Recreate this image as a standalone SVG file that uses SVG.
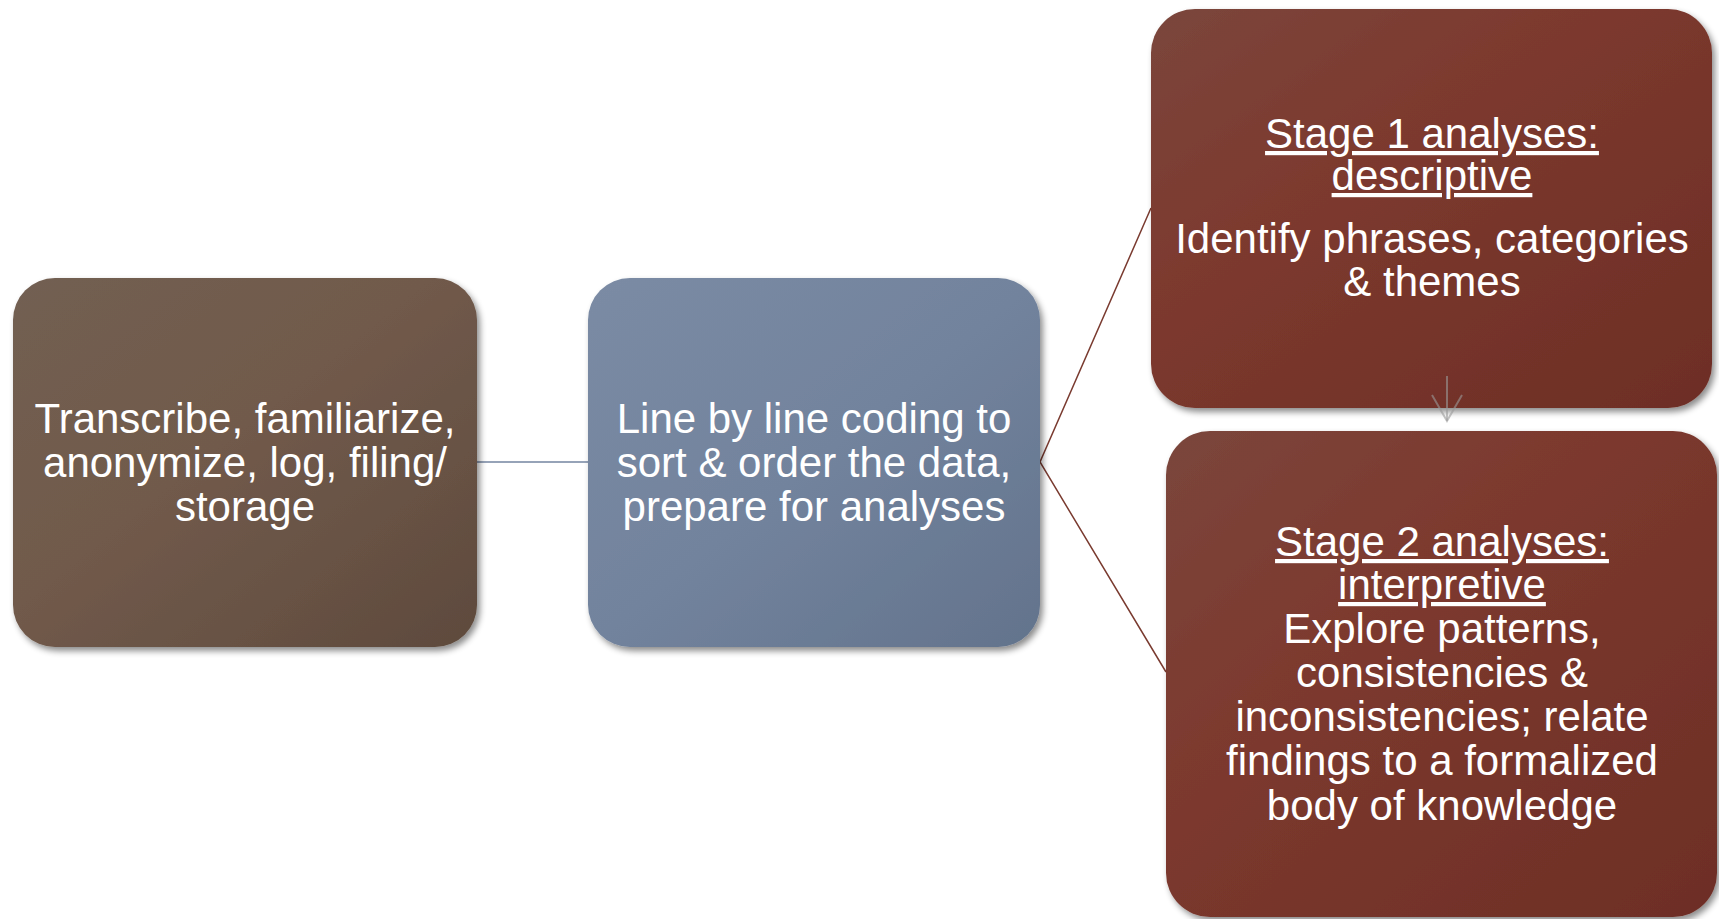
<svg xmlns="http://www.w3.org/2000/svg" width="1719" height="919" viewBox="0 0 1719 919">
<style>
.t{font-family:"Liberation Sans",Arial,sans-serif;font-size:42px;fill:#ffffff;text-anchor:middle}
.u{text-decoration:underline}
.box{filter:url(#sh)}
.conn{fill:none;stroke-width:1.5}
</style>
<defs>
<filter id="sh" x="-10%" y="-10%" width="125%" height="125%">
<feDropShadow dx="3" dy="4" stdDeviation="3" flood-color="#000" flood-opacity="0.45"/>
</filter>
<linearGradient id="gBrown" x1="0" y1="0" x2="1" y2="1">
<stop offset="0" stop-color="#725f52"/>
<stop offset="0.45" stop-color="#715a4b"/>
<stop offset="1" stop-color="#5e4a3d"/>
</linearGradient>
<linearGradient id="gBlue" x1="0" y1="0" x2="1" y2="1">
<stop offset="0" stop-color="#7b8ba4"/>
<stop offset="0.5" stop-color="#72839d"/>
<stop offset="1" stop-color="#63738c"/>
</linearGradient>
<linearGradient id="gRed" x1="0" y1="0" x2="1" y2="1">
<stop offset="0" stop-color="#7a463c"/>
<stop offset="0.35" stop-color="#7d3a2f"/>
<stop offset="1" stop-color="#6d2e25"/>
</linearGradient>
</defs>
<rect width="1719" height="919" fill="#ffffff"/>
<g id="connectors">
<line class="conn" x1="477" y1="462" x2="588" y2="462" stroke="#7384a0"/>
<polyline class="conn" points="1151,208 1040,462 1166,672" stroke="#7a3b30"/>
</g>
<g id="node-transcribe">
<rect class="box" x="13" y="278" width="464" height="369" rx="42" fill="url(#gBrown)"/>
<text class="t" x="245" y="433">Transcribe, familiarize,</text>
<text class="t" x="245" y="477">anonymize, log, filing/</text>
<text class="t" x="245" y="521">storage</text>
</g>
<g id="node-coding">
<rect class="box" x="588" y="278" width="452" height="369" rx="42" fill="url(#gBlue)"/>
<text class="t" x="814" y="433">Line by line coding to</text>
<text class="t" x="814" y="477">sort &amp; order the data,</text>
<text class="t" x="814" y="521">prepare for analyses</text>
</g>
<g id="node-stage1">
<rect class="box" x="1151" y="9" width="561" height="399" rx="44" fill="url(#gRed)"/>
<text class="t u" x="1432" y="148">Stage 1 analyses:</text>
<text class="t u" x="1432" y="190">descriptive</text>
<text class="t" x="1432" y="253">Identify phrases, categories</text>
<text class="t" x="1432" y="296">&amp; themes</text>
</g>
<g id="node-stage2">
<rect class="box" x="1166" y="431" width="551" height="486" rx="44" fill="url(#gRed)"/>
<text class="t u" x="1442" y="556">Stage 2 analyses:</text>
<text class="t u" x="1442" y="599">interpretive</text>
<text class="t" x="1442" y="643">Explore patterns,</text>
<text class="t" x="1442" y="687">consistencies &amp;</text>
<text class="t" x="1442" y="731">inconsistencies; relate</text>
<text class="t" x="1442" y="775">findings to a formalized</text>
<text class="t" x="1442" y="820">body of knowledge</text>
</g>
<g id="arrow" fill="none" stroke="#9a9a9a" stroke-opacity="0.6" stroke-width="2">
<line x1="1447" y1="376" x2="1447" y2="421"/>
<polyline points="1432,395 1447,421 1462,395"/>
</g>
</svg>
